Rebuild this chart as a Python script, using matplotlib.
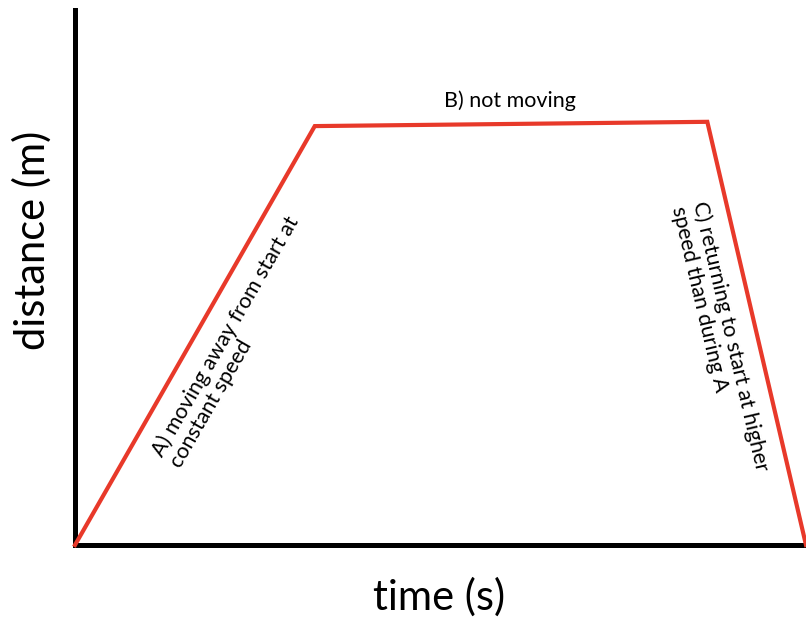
import matplotlib
matplotlib.use("Agg")
import matplotlib.pyplot as plt

plt.rcParams["font.family"] = ["Lato", "DejaVu Sans"]

# time and distance at the corners of the journey
time_points = [0.0, 3.28, 8.65, 10.0]
distance_points = [0.0, 7.83, 7.91, 0.0]

label_a = "A) moving away from start at\nconstant speed"
label_b = "B) not moving"
label_c = "C) returning to start at higher\nspeed than during A"

LINE_COLOR = "#e8392a"

fig = plt.figure(figsize=(8.06, 6.17), dpi=100)
ax = fig.add_axes([75 / 806, 72 / 617, 1 - 75 / 806, (545 - 10) / 617])

ax.plot(time_points, distance_points, color=LINE_COLOR, linewidth=3.0,
        solid_joinstyle="miter", clip_on=False, zorder=3)

ax.set_xlim(0, 10)
ax.set_ylim(0, 10)
ax.set_xticks([])
ax.set_yticks([])
ax.spines["top"].set_visible(False)
ax.spines["right"].set_visible(False)
ax.spines["left"].set_linewidth(3.6)
ax.spines["bottom"].set_linewidth(3.6)

ax.text(5.95, 8.30, label_b, fontsize=15.5, ha="center", va="center")
ax.text(2.18, 3.80, label_a, fontsize=15.5, ha="center", va="center",
        rotation=60, multialignment="left", rotation_mode="anchor",
        linespacing=1.1)
ax.text(8.82, 3.85, label_c, fontsize=15.5, ha="center", va="center",
        rotation=-76.8, multialignment="left", rotation_mode="anchor",
        linespacing=1.1)

fig.text(32 / 806, 1 - 240 / 617, "distance (m)", fontsize=30,
         rotation=90, ha="center", va="center")
fig.text(439 / 806, 1 - 597 / 617, "time (s)", fontsize=30,
         ha="center", va="center")

fig.savefig("out.png", dpi=100)
plt.close(fig)
